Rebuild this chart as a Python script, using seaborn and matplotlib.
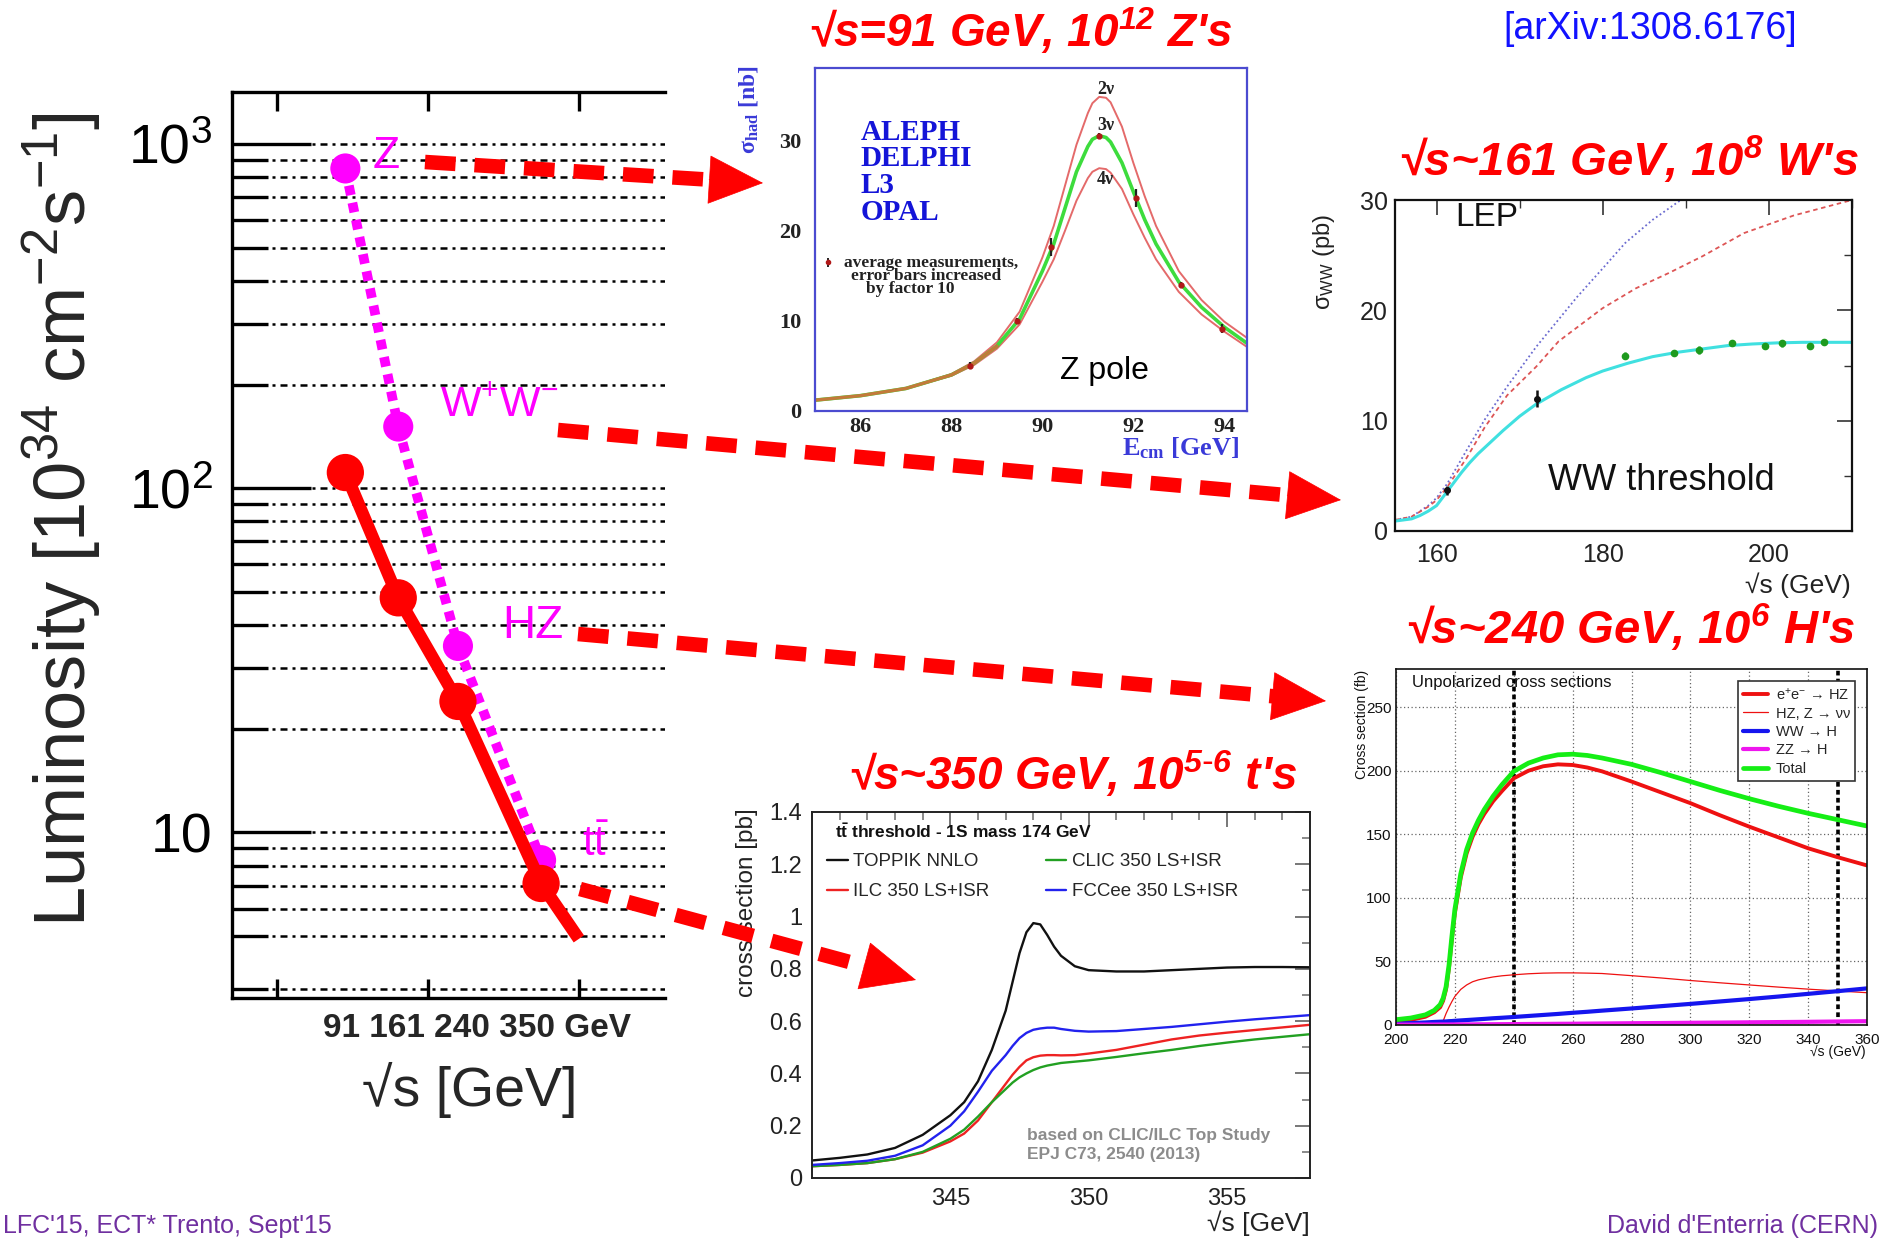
import numpy as np
import pandas as pd
import matplotlib
matplotlib.use("Agg")
import matplotlib.pyplot as plt
import seaborn as sns
from matplotlib.lines import Line2D
from matplotlib.patches import FancyArrowPatch
from matplotlib.ticker import FixedLocator, NullFormatter, MultipleLocator, NullLocator

# ======================= DATA =======================
# --- main luminosity plot ---
lumi_energy = [91, 161, 240, 350]
lumi_fcc = [111, 48, 24, 7.1]            # red, solid, large markers
lumi_fcc_end_x = [400]
lumi_fcc_end_y = [4.9]
lumi_tlep = [849, 151, 34.8, 8.3]        # magenta, dotted
energy_tick_text = "91 161 240 350 GeV"
lumi_minor = [3.5, 5, 6, 7, 8, 9, 20, 30, 40, 50, 60, 70, 80, 90,
              200, 300, 400, 500, 600, 700, 800, 900]

# --- Z pole panel ---
z_x = [85, 86, 87, 88, 88.5, 89, 89.5, 90, 90.25, 90.5, 90.75, 91, 91.1, 91.25, 91.4,
       91.5, 91.75, 92, 92.25, 92.5, 93, 93.5, 94, 94.5]
z_2nu = [1.2, 1.7, 2.5, 4.1, 5.5, 7.6, 11.0, 17.0, 20.5, 25.0, 29.5, 33.0, 34.1, 34.8, 34.7,
         34.2, 31.5, 27.5, 23.8, 20.5, 15.5, 12.3, 9.9, 8.1]
z_3nu = [1.2, 1.7, 2.5, 4.0, 5.3, 7.2, 10.2, 15.5, 18.5, 22.5, 26.5, 29.3, 30.1, 30.5, 30.3,
         29.8, 27.5, 24.3, 21.2, 18.5, 14.3, 11.5, 9.3, 7.5]
z_4nu = [1.2, 1.7, 2.5, 3.9, 5.1, 6.9, 9.6, 14.3, 16.8, 20.0, 23.3, 25.8, 26.5, 26.9, 26.8,
         26.4, 24.6, 21.8, 19.2, 16.8, 13.2, 10.7, 8.8, 7.1]
z_data_x = [88.4, 89.45, 90.2, 91.25, 92.05, 93.05, 93.95]
z_data_y = [5.0, 10.0, 18.2, 30.5, 23.6, 14.0, 9.1]
z_data_err = [0.4, 0.3, 1.0, 0.3, 1.0, 0.3, 0.5]
z_experiments = ["ALEPH", "DELPHI", "L3", "OPAL"]

# --- WW threshold panel ---
ww_x = [155, 156, 157, 158, 159, 160, 161, 162, 163, 164, 165, 166, 168, 170, 172,
        175, 178, 180, 183, 186, 189, 192, 195, 198, 201, 204, 207, 210]
ww_fit = [0.9, 1.0, 1.1, 1.4, 1.8, 2.3, 3.3, 4.3, 5.3, 6.2, 7.0, 7.7, 9.1, 10.4, 11.5,
          12.8, 13.9, 14.5, 15.2, 15.8, 16.2, 16.5, 16.8, 16.95, 17.05, 17.1, 17.1, 17.1]
ww_noZWW_x = [155, 157, 159, 160, 161.3, 163.6, 165.8, 168.5, 172, 176.9, 180, 182.7, 186, 189.4]
ww_noZWW_y = [1.0, 1.3, 2.3, 3.0, 4.3, 7.3, 10.1, 13.1, 16.7, 21.2, 23.8, 26.1, 28.2, 30.0]
ww_nue_x = [155, 157, 159, 160, 161.3, 163.6, 165.8, 168.5, 172, 174.7, 180, 184, 188, 192, 197, 203, 210]
ww_nue_y = [1.0, 1.3, 2.2, 2.8, 4.0, 6.6, 9.4, 12.3, 14.9, 17.2, 20.2, 22.0, 23.4, 24.9, 27.0, 28.6, 30.0]
ww_thr_x = [161.3, 172.1]
ww_thr_y = [3.7, 12.0]
ww_thr_err = [0.4, 0.75]
ww_lep2_x = [182.7, 188.6, 191.6, 195.5, 199.5, 201.6, 204.9, 206.6]
ww_lep2_y = [15.9, 16.1, 16.4, 17.0, 16.8, 17.0, 16.8, 17.1]
ww_lep2_err = [0.35, 0.15, 0.35, 0.25, 0.25, 0.35, 0.2, 0.15]

# --- HZ panel ---
hz_x = [200, 205, 210, 213, 215, 216, 217, 218, 219, 220, 222, 224, 226, 228, 230, 233,
        236, 240, 245, 250, 255, 260, 265, 270, 280, 290, 300, 310, 320, 330, 340, 350, 360]
hz_eehz = [2.6, 4.0, 6.5, 10.0, 14.0, 19, 28, 45, 68, 88, 116, 135, 148, 158, 166, 176,
           184, 194, 200, 203.5, 205, 204.5, 202.5, 199.5, 191.5, 183, 174.5, 165, 156,
           147.5, 139, 132, 125.5]
hz_nunu = [np.nan, np.nan, np.nan, np.nan, np.nan, 3, 9, 14, 18.5, 22.5, 28, 31.5, 34,
           35.5, 36.5, 37.8, 38.7, 39.5, 40.3, 40.8, 41.0, 41.0, 40.8, 40.5, 38.8, 37,
           35, 33.2, 31.5, 29.8, 28.2, 26.8, 25.4]
hz_wwh = [1.0, 1.5, 2.0, 2.4, 2.6, 2.7, 2.8, 3.0, 3.1, 3.3, 3.6, 3.9, 4.2, 4.5, 4.8, 5.3,
          5.7, 6.3, 7.1, 7.9, 8.7, 9.6, 10.4, 11.3, 13.0, 14.8, 16.6, 18.5, 20.4, 22.4,
          24.5, 26.6, 28.8]
hz_zzh = [0.3, 0.3, 0.35, 0.35, 0.4, 0.4, 0.4, 0.4, 0.45, 0.45, 0.5, 0.5, 0.5, 0.55, 0.55,
          0.6, 0.65, 0.7, 0.8, 0.85, 0.95, 1.0, 1.1, 1.2, 1.4, 1.55, 1.75, 1.9, 2.1, 2.3,
          2.5, 2.75, 3.0]
hz_total = [4.2, 5.5, 8.0, 11.5, 16, 21, 30, 47, 70, 91, 119, 138, 151, 161, 169.5, 180,
            189, 199.5, 206, 210, 212.5, 213, 212, 210, 205, 198.5, 191.5, 184.5, 178,
            172, 166.5, 161.5, 156.5]
hz_labels = ["e$^{+}$e$^{-}$ → HZ", "HZ, Z → νν", "WW → H", "ZZ → H", "Total"]
hz_marked_energies = [240, 350]

# --- ttbar panel ---
tt_x = [340, 341, 342, 343, 344, 345, 345.5, 346, 346.5, 347, 347.25, 347.5, 347.75, 348,
        348.25, 348.5, 348.75, 349, 349.5, 350, 351, 352, 353, 354, 355, 356, 357, 358]
tt_toppik = [0.067, 0.077, 0.09, 0.115, 0.165, 0.24, 0.29, 0.37, 0.49, 0.64, 0.75, 0.86,
             0.94, 0.975, 0.97, 0.93, 0.885, 0.85, 0.81, 0.795, 0.79, 0.79, 0.795, 0.80,
             0.805, 0.807, 0.807, 0.806]
tt_ilc = [0.045, 0.05, 0.057, 0.072, 0.097, 0.14, 0.17, 0.22, 0.29, 0.36, 0.395, 0.425,
          0.45, 0.462, 0.468, 0.47, 0.47, 0.469, 0.47, 0.476, 0.49, 0.51, 0.53, 0.545,
          0.556, 0.566, 0.576, 0.586]
tt_clic = [0.045, 0.05, 0.057, 0.072, 0.1, 0.15, 0.185, 0.235, 0.29, 0.34, 0.365, 0.385,
           0.40, 0.413, 0.423, 0.43, 0.435, 0.44, 0.445, 0.45, 0.463, 0.477, 0.49, 0.505,
           0.518, 0.53, 0.54, 0.55]
tt_fccee = [0.050, 0.057, 0.066, 0.085, 0.125, 0.20, 0.255, 0.33, 0.41, 0.47, 0.505, 0.535,
            0.555, 0.567, 0.572, 0.575, 0.575, 0.57, 0.563, 0.56, 0.562, 0.57, 0.578,
            0.588, 0.598, 0.607, 0.615, 0.623]
tt_labels = ["TOPPIK NNLO", "ILC 350 LS+ISR", "CLIC 350 LS+ISR", "FCCee 350 LS+ISR"]

# ======================= STYLE =======================
sns.set_theme(style="white")
plt.rcParams['font.family'] = ['Liberation Sans', 'DejaVu Sans']
plt.rcParams['mathtext.default'] = 'regular'
plt.rcParams['axes.unicode_minus'] = False
SERIF = ['Liberation Serif', 'DejaVu Serif']

W, H = 1879, 1239
fig = plt.figure(figsize=(W / 100, H / 100), dpi=100)
fig.patch.set_facecolor('white')


def rect(l, t, r, b):
    return [l / W, 1 - b / H, (r - l) / W, (b - t) / H]


def fx(x):
    return x / W


def fy(y):
    return 1 - y / H


RED = '#ff0000'
MAG = '#ff00ff'

# ======================= MAIN PLOT =======================
ax = fig.add_axes(rect(232, 92, 665, 998))
ax.set_facecolor('white')
sns.lineplot(x=lumi_energy, y=lumi_tlep, ax=ax, color=MAG, lw=7,
             linestyle=(0, (1.0, 0.8)), dash_capstyle='butt', zorder=3, legend=False)
sns.scatterplot(x=lumi_energy, y=lumi_tlep, ax=ax, color=MAG, s=470,
                edgecolor='none', zorder=3.5, legend=False)
sns.lineplot(x=lumi_energy + lumi_fcc_end_x, y=lumi_fcc + lumi_fcc_end_y, ax=ax,
             color=RED, lw=9, solid_capstyle='butt', zorder=4, legend=False)
sns.scatterplot(x=lumi_energy, y=lumi_fcc, ax=ax, color=RED, s=720,
                edgecolor='none', zorder=5, legend=False)
ax.set_yscale('log')
ax.set_xlim(-59, 514)
ax.set_ylim(3.30, 1416)
ax.set_xlabel('')
ax.set_ylabel('')
for side in ['left', 'top', 'bottom']:
    ax.spines[side].set_linewidth(2.4)
    ax.spines[side].set_color('black')
ax.spines['right'].set_visible(False)
ax.set_yticks([10, 100, 1000], labels=['10', '10$^{2}$', '10$^{3}$'])
ax.yaxis.set_minor_locator(FixedLocator(lumi_minor))
ax.yaxis.set_minor_formatter(NullFormatter())
ax.tick_params(axis='y', which='major', direction='in', length=57, width=2.4,
               labelsize=40, pad=14, right=False, left=True, colors='black')
ax.tick_params(axis='y', which='minor', direction='in', length=26, width=2.4,
               right=False, left=True, colors='black')
ax.set_xticks([0, 200, 400], labels=['', '', ''])
ax.xaxis.set_minor_locator(NullLocator())
ax.tick_params(axis='x', which='major', direction='in', length=14, width=2.4,
               top=True, bottom=True, labelbottom=False, colors='black')
ax.grid(True, which='both', axis='y', color='black', lw=1.8,
        linestyle=(0, (1.2, 2.0, 2.8, 2.0)))
ax.grid(False, axis='x')
ax.text(0.565, -0.034, energy_tick_text, transform=ax.transAxes, ha='center',
        va='center', fontsize=24, fontweight='bold')
ax.text(0.55, -0.1015, "√s [GeV]", transform=ax.transAxes, ha='center',
        va='center', fontsize=40)
fig.text(fx(62), fy(520), "Luminosity [10$^{34}$ cm$^{-2}$s$^{-1}$]", rotation=90,
         ha='center', va='center', fontsize=52)
ax.text(127, 917, "Z", color=MAG, fontsize=32, ha='left', va='center')
ax.text(216, 174, "W$^{+}$W$^{-}$", color=MAG, fontsize=31, ha='left', va='center')
ax.text(298, 39.8, "HZ", color=MAG, fontsize=33, ha='left', va='center')
ax.text(404, 9.2, r"t$\bar{t}$", color=MAG, fontsize=30, ha='left', va='center')

# ======================= Z POLE PANEL =======================
axz = fig.add_axes(rect(815, 68, 1247, 411))
sns.lineplot(x=z_x, y=z_2nu, ax=axz, color='#e46a6a', lw=1.4, legend=False)
sns.lineplot(x=z_x, y=z_4nu, ax=axz, color='#e46a6a', lw=1.4, legend=False)
sns.lineplot(x=z_x, y=z_3nu, ax=axz, color='#3ddc3d', lw=2.6, legend=False)
sns.lineplot(x=z_x[:6], y=z_3nu[:6], ax=axz, color='#c27a3a', lw=2.4, legend=False)
axz.errorbar(z_data_x, z_data_y, yerr=z_data_err, fmt='o', ms=3.5, color='#b01818',
             ecolor='#222222', elinewidth=1.6, capsize=0, zorder=5)
axz.set_xlim(85, 94.5)
axz.set_ylim(0, 38)
axz.set_xlabel('')
axz.set_ylabel('')
for s in axz.spines.values():
    s.set_color('#4b4bd0')
    s.set_linewidth(1.6)
axz.set_xticks([86, 88, 90, 92, 94])
axz.set_yticks([0, 10, 20, 30])
axz.xaxis.set_minor_locator(MultipleLocator(0.5))
axz.yaxis.set_minor_locator(MultipleLocator(2))
axz.tick_params(which='major', direction='in', length=7, width=1.2, color='#444444',
                labelsize=16, labelcolor='#222222')
axz.tick_params(axis='y', which='major', pad=10)
axz.tick_params(axis='x', which='major', pad=4)
axz.tick_params(which='minor', direction='in', length=4, width=1.0, color='#444444')
for lab in axz.get_xticklabels() + axz.get_yticklabels():
    lab.set_fontfamily(SERIF)
    lab.set_fontweight('bold')
for i, name in enumerate(z_experiments):
    axz.text(86.0, [30.9, 28.0, 25.0, 22.0][i], name, color='#1414d8', fontsize=21,
             fontweight='bold', fontfamily=SERIF, ha='left', va='center')
axz.errorbar([85.29], [16.5], yerr=[0.5], fmt='o', ms=3, color='#b01818',
             ecolor='#222222', elinewidth=1.4, capsize=0)
for (tx, ty, tt) in [(85.63, 16.4, "average measurements,"),
                     (85.80, 14.95, "error bars increased"),
                     (86.13, 13.55, "by factor 10")]:
    axz.text(tx, ty, tt, fontsize=12.5, fontweight='bold', fontfamily=SERIF,
             ha='left', va='center', color='#222222')
for (ty, tt) in [(35.6, "2ν"), (31.6, "3ν"), (25.6, "4ν")]:
    axz.text(91.39, ty, tt, fontsize=13, fontweight='bold', fontfamily=SERIF,
             ha='center', va='center', color='#222222')
axz.text(91.37, 4.4, "Z pole", fontsize=23, ha='center', va='center', color='black')
fig.text(fx(748), fy(110), r"$\sigma_{had}$ [nb]", rotation=90, ha='center', va='center',
         fontsize=17, fontweight='bold', fontfamily=SERIF, color='#3a3ad8')
fig.text(fx(1181), fy(448), r"E$_{cm}$ [GeV]", ha='center', va='center', fontsize=19,
         fontweight='bold', fontfamily=SERIF, color='#3a3ad8')

# ======================= WW PANEL =======================
axw = fig.add_axes(rect(1395, 200, 1852, 531))
sns.lineplot(x=ww_noZWW_x, y=ww_noZWW_y, ax=axw, color='#6a6ad0', lw=1.3,
             linestyle=(0, (1, 1.5)), legend=False)
sns.lineplot(x=ww_nue_x, y=ww_nue_y, ax=axw, color='#dd5555', lw=1.3,
             linestyle=(0, (2.5, 2)), legend=False)
sns.lineplot(x=ww_x, y=ww_fit, ax=axw, color='#40e0e0', lw=2.2, legend=False)
axw.errorbar(ww_thr_x, ww_thr_y, yerr=ww_thr_err, fmt='o', ms=4, color='#111111',
             ecolor='#111111', elinewidth=1.8, capsize=0, zorder=5)
axw.errorbar(ww_lep2_x, ww_lep2_y, yerr=ww_lep2_err, fmt='o', ms=4.5, color='#1e9a1e',
             ecolor='#1e9a1e', elinewidth=1.8, capsize=0, zorder=5)
axw.set_xlim(155, 210)
axw.set_ylim(0, 30)
axw.set_xlabel('')
axw.set_ylabel('')
for s in axw.spines.values():
    s.set_color('#111111')
    s.set_linewidth(1.6)
axw.set_xticks([160, 180, 200])
axw.set_yticks([0, 10, 20, 30])
axw.xaxis.set_minor_locator(MultipleLocator(10))
axw.yaxis.set_minor_locator(MultipleLocator(5))
axw.tick_params(which='major', direction='in', length=11, width=1.2, top=True, right=True,
                color='#333333', labelsize=18, labelcolor='#222222')
axw.tick_params(axis='y', which='major', pad=5)
axw.tick_params(axis='x', which='major', pad=9)
axw.tick_params(which='minor', direction='in', length=6, width=1.0, top=True, right=True,
                color='#333333')
axw.text(162.2, 28.4, "LEP", fontsize=24, ha='left', va='center', color='#111111')
axw.text(173.4, 4.6, "WW threshold", fontsize=26, ha='left', va='center', color='#111111')
fig.text(fx(1324), fy(262), r"$\sigma_{WW}$ (pb)", rotation=90, ha='center', va='center',
         fontsize=17, color='#222222')
fig.text(fx(1851), fy(585), "√s (GeV)", ha='right', va='center', fontsize=19,
         color='#222222')

# ======================= HZ PANEL =======================
axh = fig.add_axes(rect(1396, 669, 1867, 1025))
hz_colors = ['#ee1111', '#ee1111', '#1515ee', '#ee15ee', '#15ee15']
hz_widths = [2.8, 0.9, 3.0, 3.0, 3.4]
for yv, lab, col, lw in zip([hz_eehz, hz_nunu, hz_wwh, hz_zzh, hz_total], hz_labels,
                            hz_colors, hz_widths):
    sns.lineplot(x=hz_x, y=yv, ax=axh, color=col, lw=lw, label=lab)
for e in hz_marked_energies:
    axh.axvline(e, color='black', lw=2.6, linestyle=(0, (1.3, 0.9)), zorder=1.8)
axh.set_xlim(200, 360)
axh.set_ylim(0, 280)
axh.set_xlabel('')
axh.set_ylabel('')
for s in axh.spines.values():
    s.set_color('#111111')
    s.set_linewidth(1.2)
axh.set_xticks(list(range(200, 361, 20)))
axh.set_yticks(list(range(0, 251, 50)))
axh.xaxis.set_minor_locator(MultipleLocator(5))
axh.yaxis.set_minor_locator(MultipleLocator(10))
axh.grid(True, which='major', color='#666666', lw=0.9, linestyle=(0, (1, 2)))
axh.tick_params(which='major', direction='in', length=6, width=1.0, color='#222222',
                labelsize=11, labelcolor='#111111')
axh.tick_params(axis='y', which='major', pad=3)
axh.tick_params(axis='x', which='major', pad=6)
axh.tick_params(which='minor', direction='in', length=3, width=0.8, color='#222222')
leg = axh.legend(loc='upper right', bbox_to_anchor=(0.9745, 0.966), borderaxespad=0,
                 fontsize=10.5, frameon=True, fancybox=False, framealpha=1,
                 edgecolor='#333333', borderpad=0.35, labelspacing=0.3,
                 handlelength=1.7, handletextpad=0.5)
leg.get_frame().set_linewidth(1.2)
leg.set_zorder(10)
axh.text(205.6, 269, "Unpolarized cross sections", fontsize=12, ha='left', va='center',
         color='#111111')
fig.text(fx(1362), fy(724), "Cross section (fb)", rotation=90, ha='center', va='center',
         fontsize=10, color='#111111')
fig.text(fx(1866), fy(1052), "√s (GeV)", ha='right', va='center', fontsize=10,
         color='#111111')

# ======================= TTBAR PANEL =======================
axt = fig.add_axes(rect(812, 812, 1310, 1178))
tt_colors = ['#111111', '#ee2222', '#22a022', '#2222ee']
for yv, lab, col in zip([tt_toppik, tt_ilc, tt_clic, tt_fccee], tt_labels, tt_colors):
    sns.lineplot(x=tt_x, y=yv, ax=axt, color=col, lw=1.7, label=lab)
axt.set_xlim(340, 358)
axt.set_ylim(0, 1.4)
axt.set_xlabel('')
axt.set_ylabel('')
for s in axt.spines.values():
    s.set_color('#222222')
    s.set_linewidth(1.4)
axt.set_xticks([345, 350, 355])
axt.set_yticks([0, 0.2, 0.4, 0.6, 0.8, 1.0, 1.2, 1.4],
               labels=['0', '0.2', '0.4', '0.6', '0.8', '1', '1.2', '1.4'])
axt.xaxis.set_minor_locator(MultipleLocator(1))
axt.yaxis.set_minor_locator(MultipleLocator(0.1))
axt.tick_params(which='major', direction='in', length=11, width=1.4, top=True, right=True,
                color='#777777', labelsize=17, pad=7, labelcolor='#222222')
axt.tick_params(which='minor', direction='in', length=6, width=1.2, top=True, right=True,
                color='#777777')
axt.legend(loc='upper left', bbox_to_anchor=(0.03, 0.888), ncol=2, frameon=False,
           fontsize=13.5, handlelength=1.1, handletextpad=0.3, columnspacing=3.0,
           labelspacing=0.7, borderaxespad=0, borderpad=0)
axt.text(0.046, 0.946, r"t$\bar{t}$ threshold - 1S mass 174 GeV", transform=axt.transAxes,
         fontsize=12.5, fontweight='bold', ha='left', va='center', color='#111111')
axt.text(0.432, 0.117, "based on CLIC/ILC Top Study", transform=axt.transAxes,
         fontsize=12.5, fontweight='bold', ha='left', va='center', color='#8c8c8c')
axt.text(0.432, 0.063, "EPJ C73, 2540 (2013)", transform=axt.transAxes,
         fontsize=12.5, fontweight='bold', ha='left', va='center', color='#8c8c8c')
fig.text(fx(747), fy(903), "cross section [pb]", rotation=90, ha='center', va='center',
         fontsize=17.5, color='#222222')
fig.text(fx(1310), fy(1223), "√s [GeV]", ha='right', va='center', fontsize=19,
         color='#222222')

# ======================= TITLES & TEXT =======================
title_kw = dict(color=RED, fontweight='bold', fontstyle='italic', ha='center', va='center')
fig.text(fx(1020), fy(32), "√s=91 GeV, 10$^{12}$ Z's", fontsize=33, **title_kw)
fig.text(fx(1628), fy(160), "√s~161 GeV, 10$^{8}$ W's", fontsize=34, **title_kw)
fig.text(fx(1630), fy(628), "√s~240 GeV, 10$^{6}$ H's", fontsize=34, **title_kw)
fig.text(fx(1072), fy(775), r"√s~350 GeV, 10$^{5\text{-}6}$ t's", fontsize=33, **title_kw)
fig.text(fx(1650), fy(29), "[arXiv:1308.6176]", color='#1212ff', fontsize=27,
         ha='center', va='center')
fig.text(fx(3), fy(1226), "LFC'15, ECT* Trento, Sept'15", color='#7030a0', fontsize=18,
         ha='left', va='center')
fig.text(fx(1878), fy(1226), "David d'Enterria (CERN)", color='#7030a0', fontsize=18,
         ha='right', va='center')

# ======================= ARROWS =======================
arrow_paths = [((425, 162), (763, 183)),
               ((558, 430), (1341, 500)),
               ((578, 634), (1326, 701)),
               ((580, 889), (916, 980))]
HEAD_LEN = 52.0
for (x0, y0), (x1, y1) in arrow_paths:
    dx, dy = x1 - x0, y1 - y0
    L = np.hypot(dx, dy)
    ux, uy = dx / L, dy / L
    bx, by = x1 - ux * HEAD_LEN, y1 - uy * HEAD_LEN
    line = Line2D([fx(x0), fx(bx)], [fy(y0), fy(by)], transform=fig.transFigure,
                  color=RED, lw=10.5, linestyle=(0, (2.1, 1.3)), dash_capstyle='butt',
                  solid_capstyle='butt', zorder=20)
    fig.add_artist(line)
    head = FancyArrowPatch((fx(bx - ux * 2), fy(by - uy * 2)), (fx(x1), fy(y1)),
                           transform=fig.transFigure,
                           arrowstyle='-|>,head_length=38,head_width=17',
                           mutation_scale=1, color=RED, lw=0.5, shrinkA=0, shrinkB=0,
                           zorder=20)
    fig.add_artist(head)

fig.savefig("out.png", dpi=100)
